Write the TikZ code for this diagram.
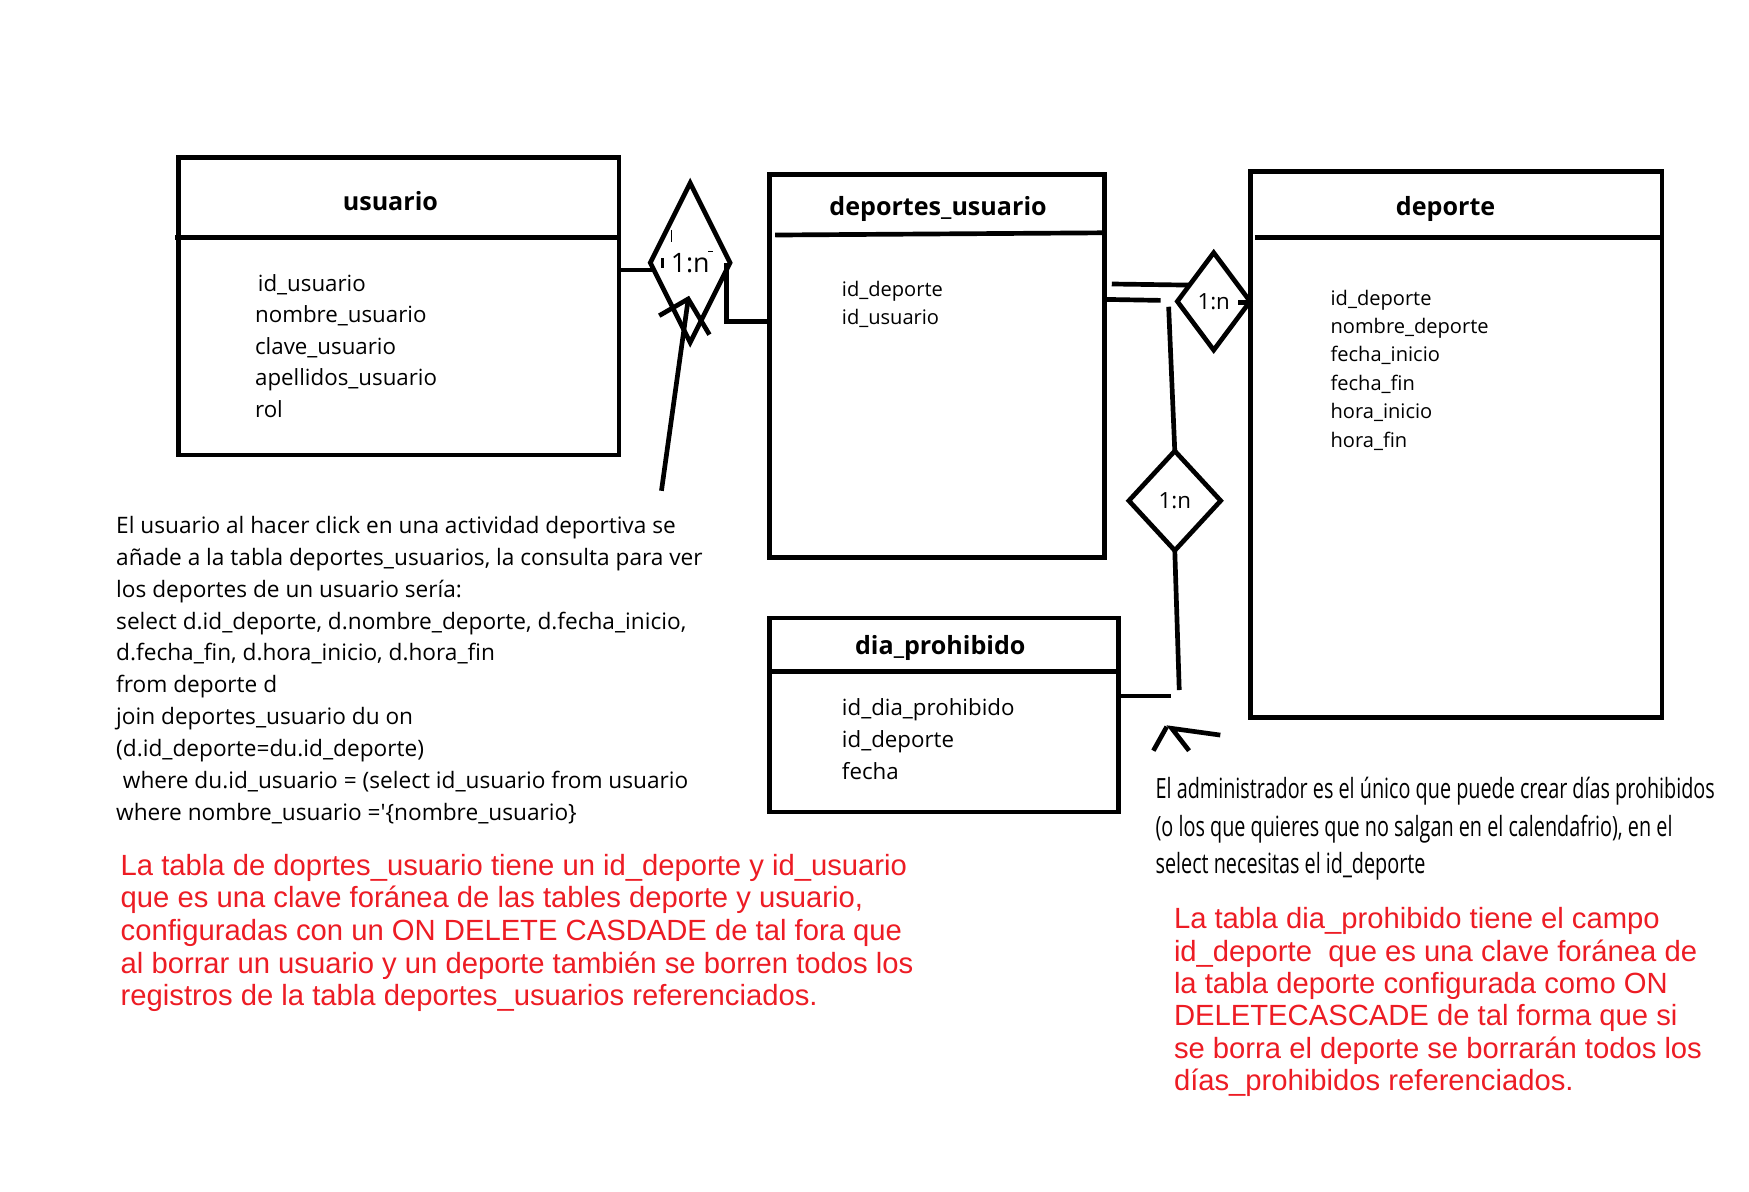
\documentclass[tikz,border=0pt]{standalone}
\usepackage{fontspec}
\setmainfont{Open Sans}
\newfontfamily\arialfont{Liberation Sans}
\newfontfamily\condfont[FakeStretch=0.71]{Open Sans}
\usetikzlibrary{shapes.geometric}
\definecolor{redtxt}{RGB}{237,28,36}
\begin{document}
\begin{tikzpicture}[x=1pt,y=-1pt,
  tbl/.style={draw, line width=4.2pt, inner sep=0pt, outer sep=0pt, anchor=north west},
  rule/.style={line width=4.2pt},
  conn/.style={line width=4.2pt},
  thinmark/.style={line width=1.2pt},
  rel/.style={draw, shape=diamond, line width=4.2pt, inner sep=0pt, outer sep=0pt, font=\fontsize{20}{24}\selectfont},
  ttl/.style={font=\bfseries\fontsize{22.5}{27}\selectfont, anchor=base, inner sep=0pt},
  attrA/.style={font=\fontsize{20}{24}\selectfont, anchor=base west, inner sep=0pt},
  attrB/.style={font=\fontsize{18}{22}\selectfont, anchor=base west, inner sep=0pt},
  note/.style={font=\fontsize{20.3}{24}\selectfont, anchor=base west, inner sep=0pt},
  rednote/.style={font=\arialfont\fontsize{26.2}{30}\selectfont, text=redtxt, anchor=base west, inner sep=0pt},
  adm/.style={font=\condfont\fontsize{25}{30}\selectfont, anchor=base west, inner sep=0pt}
]
\fill[white] (0,0) rectangle (1568,1068);
\useasboundingbox (0,0) rectangle (1568,1068);

% ---------- tables ----------
\node[tbl, minimum width=395pt, minimum height=267pt] (usuario) at (160,141) {};
\node[tbl, minimum width=300pt, minimum height=343.5pt] (du) at (690,156.5) {};
\node[tbl, minimum width=369pt, minimum height=489pt] (dep) at (1121,154) {};
\node[tbl, minimum width=313pt, minimum height=174pt] (dp) at (690,554) {};

% header rules
\draw[rule] (157,213) -- (usuario.east |- 0,213);
\draw[rule] (695,210.7) -- (du.east |- 0,208.7);
\draw[rule] (1125,213) -- (dep.east |- 0,213);
\draw[rule] (dp.west |- 0,602) -- (dp.east |- 0,602);

% titles
\node[ttl] (tU) at (350,189) {usuario};
\node[ttl] (tDU) at (841,193.3) {deportes\_usuario};
\node[ttl] (tD) at (1296,193.4) {deporte};
\node[ttl] (tDP) at (843,586.5) {dia\_prohibido};

% attributes
\node[attrA] (u1) at (231,261) {id\_usuario};
\node[attrA] (u2) at (228.5,289.3) {nombre\_usuario};
\node[attrA] (u3) at (228.5,317.6) {clave\_usuario};
\node[attrA] (u4) at (228.5,345.9) {apellidos\_usuario};
\node[attrA] (u5) at (228.5,374.2) {rol};

\node[attrB] (du1) at (754.6,265.5) {id\_deporte};
\node[attrB] (du2) at (754.6,290.9) {id\_usuario};

\foreach \t [count=\i] in {id\_deporte, nombre\_deporte, fecha\_inicio, fecha\_fin, hora\_inicio, hora\_fin}
  \node[attrB] (d\i) at (1192.7,{273.5+25.5*(\i-1)}) {\t};

\node[attrA] (p1) at (754.6,641.5) {id\_dia\_prohibido};
\node[attrA] (p2) at (754.6,670.5) {id\_deporte};
\node[attrA] (p3) at (754.6,699) {fecha};

% ---------- relationships ----------
\node[rel, minimum width=71.5pt, minimum height=143pt, font=\fontsize{24}{28}\selectfont] (r1) at (618.75,235.5) {1:n};
\node[rel, minimum width=65.2pt, minimum height=87.3pt] (r2) at (1088.1,270.2) {1:n};
\node[rel, minimum width=82.3pt, minimum height=89.2pt] (r3) at (1053.2,448.9) {1:n};

% small stray marks on the first diamond
\draw[thinmark] (602.2,206) -- (602.2,216.7);
\draw[line width=2pt] (594,231.6) -- (594,240.6);
\draw[line width=1.5pt] (635,225.6) -- (639.5,225.6);

% ---------- connectors ----------
\coordinate (c1) at (587,242);
\draw[conn] (c1 -| usuario.east) -- (c1);
\coordinate (c2) at (651.5,288.4);
\draw[conn] (c2 |- r1.east) -- (c2) -- (c2 -| du.west);

\coordinate (c3a) at (996.7,254.6);
\coordinate (c3b) at (1067,255.6);
\draw[conn] (c3a) -- (c3b);
\coordinate (c4b) at (1040.5,269.3);
\draw[conn] (du.east |- 0,268.4) -- (c4b);
\coordinate (c5) at (1047.7,275);
\draw[conn] (c5) -- (r3.north);
\coordinate (c6) at (1057.2,618.6);
\draw[conn] (r3.south) -- (c6);
\coordinate (c7) at (1050,624);
\draw[conn] (dp.east |- c7) -- (c7);
\coordinate (c8) at (1110,271);
\draw[conn] (c8) -- (c8 -| dep.west);

% hand-drawn arrow 1
\coordinate (a1s) at (593,440);
\coordinate (a1t) at (617,268);
\coordinate (a1l) at (591,283);
\coordinate (a1r) at (636,300);
\draw[conn] (a1s) -- (a1t);
\draw[conn] (a1l) -- (a1t) -- (a1r);

% hand-drawn arrow 2
\coordinate (a2l1) at (1034,673);
\coordinate (a2l2) at (1046,651.5);
\coordinate (a2t) at (1050.5,653);
\coordinate (a2r) at (1066,673);
\coordinate (a2e) at (1094,659);
\draw[conn] (a2l1) -- (a2l2);
\draw[conn] (a2r) -- (a2t) -- (a2e);

% ---------- notes ----------
\node[note] (n1) at (104,478.2) {El usuario al hacer click en una actividad deportiva se};
\node[note] (n2) at (104,506.8) {añade a la tabla deportes\_usuarios, la consulta para ver};
\node[note] (n3) at (104,535.3) {los deportes de un usuario sería:};
\node[note] (n4) at (104,563.9) {select d.id\_deporte, d.nombre\_deporte, d.fecha\_inicio,};
\node[note] (n5) at (104,592.5) {d.fecha\_fin, d.hora\_inicio, d.hora\_fin};
\node[note] (n6) at (104,621.0) {from deporte d};
\node[note] (n7) at (104,649.6) {join deportes\_usuario du on};
\node[note] (n8) at (104,678.1) {(d.id\_deporte=du.id\_deporte)};
\node[note] (n9) at (110,706.7) {where du.id\_usuario = (select id\_usuario from usuario};
\node[note] (n10) at (104,735.2) {where nombre\_usuario =\textquotesingle\{nombre\_usuario\}};

\node[rednote] (rl1) at (108,784.6) {La tabla de doprtes\_usuario tiene un id\_deporte y id\_usuario};
\node[rednote] (rl2) at (108,813.8) {que es una clave foránea de las tables deporte y usuario,};
\node[rednote] (rl3) at (108,843.1) {configuradas con un ON DELETE CASDADE de tal fora que};
\node[rednote] (rl4) at (108,872.3) {al borrar un usuario y un deporte también se borren todos los};
\node[rednote] (rl5) at (108,901.6) {registros de la tabla deportes\_usuarios referenciados.};

\node[adm] (ad1) at (1035.8,715.8) {El administrador es el único que puede crear días prohibidos};
\node[adm] (ad2) at (1035.8,749.5) {(o los que quieres que no salgan en el calendafrio), en el};
\node[adm] (ad3) at (1035.8,783) {select necesitas el id\_deporte};

\node[rednote] (rr1) at (1052.3,832.6) {La tabla dia\_prohibido tiene el campo};
\node[rednote] (rr2) at (1052.3,861.6) {id\_deporte\ \ que es una clave foránea de};
\node[rednote] (rr3) at (1052.3,890.6) {la tabla deporte configurada como ON};
\node[rednote] (rr4) at (1052.3,919.6) {DELETECASCADE de tal forma que si};
\node[rednote] (rr5) at (1052.3,948.6) {se borra el deporte se borrarán todos los};
\node[rednote] (rr6) at (1052.3,977.6) {días\_prohibidos referenciados.};
\end{tikzpicture}
\end{document}
